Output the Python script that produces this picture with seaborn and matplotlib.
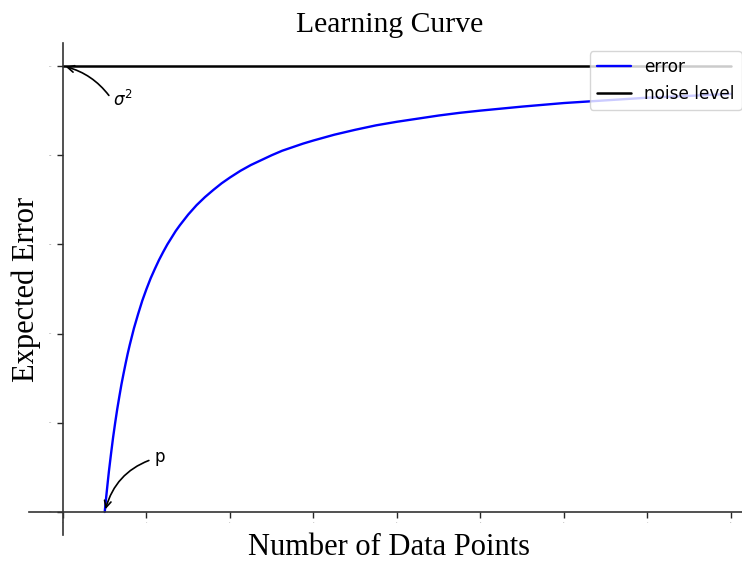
import matplotlib
matplotlib.use("Agg")
import matplotlib.pyplot as plt
import seaborn as sns
import pandas as pd

# Data
n_points = [0.5, 0.51, 0.52, 0.535, 0.55, 0.575, 0.6, 0.625, 0.65, 0.675, 0.7, 0.725,
            0.75, 0.775, 0.8, 0.85, 0.9, 0.95, 1.0, 1.05, 1.1, 1.15, 1.2, 1.25, 1.3,
            1.35, 1.4, 1.5, 1.6, 1.7, 1.8, 1.9, 2.0, 2.125, 2.25, 2.375, 2.5, 2.625,
            2.75, 2.875, 3.0, 3.25, 3.5, 3.75, 4.0, 4.25, 4.5, 4.75, 5.0, 5.5, 6.0,
            6.5, 7.0, 7.5, 8.0]
expected_error = [0.0, 0.020, 0.038, 0.065, 0.091, 0.130, 0.167, 0.200, 0.231, 0.259,
                  0.286, 0.310, 0.333, 0.355, 0.375, 0.412, 0.444, 0.474, 0.500, 0.524,
                  0.545, 0.565, 0.583, 0.600, 0.615, 0.630, 0.643, 0.667, 0.688, 0.706,
                  0.722, 0.737, 0.750, 0.765, 0.778, 0.789, 0.800, 0.810, 0.818, 0.826,
                  0.833, 0.846, 0.857, 0.867, 0.875, 0.882, 0.889, 0.895, 0.900, 0.909,
                  0.917, 0.923, 0.929, 0.933, 0.9375]
noise_x = [0.0, 8.0]
noise_level = [1.0, 1.0]
x_ticks = [0, 1, 2, 3, 4, 5, 6, 7, 8]
y_ticks = [0.0, 0.2, 0.4, 0.6, 0.8, 1.0]
p_value = 0.5
sigma2 = 1.0

sns.set_style("ticks")
plt.rcParams['font.family'] = ['DejaVu Sans']
plt.rcParams['text.color'] = 'black'
plt.rcParams['axes.labelcolor'] = 'black'

fig = plt.figure(figsize=(7.42, 5.62), dpi=100)
W, H = 742.0, 562.0
ax = fig.add_axes([29 / W, 1 - 535 / H, (750 - 29) / W, (535 - 43) / H])

err_df = pd.DataFrame({"n": n_points, "err": expected_error})
noise_df = pd.DataFrame({"n": noise_x, "noise": noise_level})
sns.lineplot(data=err_df, x="n", y="err", color="blue", lw=1.7, label="error", ax=ax, sort=False)
sns.lineplot(data=noise_df, x="n", y="noise", color="black", lw=1.8, label="noise level", ax=ax)

ax.set_xlim(-0.407, 8.228)
ax.set_ylim(-0.0516, 1.0516)
ax.set_xticks(x_ticks)
ax.set_yticks(y_ticks)
ax.tick_params(axis="both", labelsize=1.5, labelcolor="0.5", length=4, width=1, color="0.15")

ax.spines["left"].set_position(("data", 0))
ax.spines["bottom"].set_position(("data", 0))
ax.spines["top"].set_visible(False)
ax.spines["right"].set_visible(False)
for s in ("left", "bottom"):
    ax.spines[s].set_color("0.2")
    ax.spines[s].set_linewidth(1.2)

serif = ["Liberation Serif", "DejaVu Serif"]
ax.set_title("Learning Curve", fontsize=21.3, family=serif, pad=8, color="black")
ax.set_xlabel("Number of Data Points", fontsize=22, family=serif, labelpad=7)
ax.set_ylabel("Expected Error", fontsize=22, family=serif, labelpad=6)

ax.annotate(r"$\sigma^2$", xy=(0, sigma2), xytext=(36, -29), textcoords="offset points",
            fontsize=12, arrowprops=dict(arrowstyle="->", color="black", lw=1.2,
                                         relpos=(0.0, 0.45), shrinkA=1,
                                         connectionstyle="arc3,rad=0.2"))
ax.annotate("p", xy=(p_value, 0), xytext=(36, 36), textcoords="offset points",
            fontsize=12, arrowprops=dict(arrowstyle="->", color="black", lw=1.2,
                                         connectionstyle="arc3,rad=0.3"))

leg = ax.legend(loc="upper right", fontsize=12.2)
for t in leg.get_texts():
    t.set_color("black")

fig.savefig("out.png", dpi=100)
